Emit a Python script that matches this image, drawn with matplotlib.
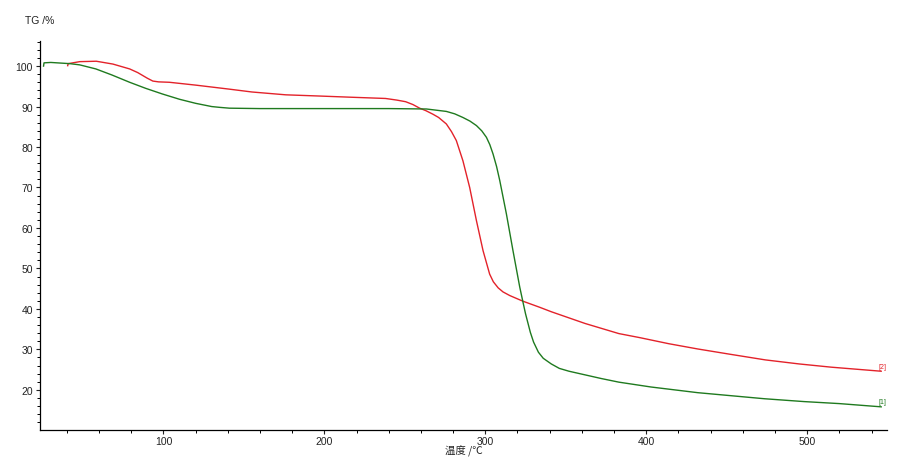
import matplotlib
matplotlib.use('Agg')
import matplotlib.pyplot as plt
from matplotlib.ticker import MultipleLocator

# sample [1] (green)
temp_1 = [25.5, 25.8, 30, 42, 48, 58, 68, 79, 89, 99.4, 110, 120, 125, 130, 135, 141, 160, 200, 240,
          263.4, 275.8, 281, 286.1, 290.5, 294.5, 297.8, 300.7, 302.8, 304.8, 307, 309, 313.1, 317.2,
          321.4, 323.4, 325, 328, 330, 333, 336, 341, 346, 352, 362, 372, 383, 403, 432, 473.5, 498,
          520, 546]
tg_1 = [100.0, 100.8, 100.9, 100.6, 100.3, 99.3, 97.8, 96.0, 94.5, 93.1, 91.8, 90.8, 90.4, 90.0,
        89.8, 89.6, 89.5, 89.5, 89.5, 89.4, 88.8, 88.2, 87.3, 86.4, 85.3, 84.0, 82.4, 80.6, 78.3,
        75.2, 71.7, 63.5, 54.4, 45.4, 41.7, 38.8, 34.2, 31.8, 29.3, 27.8, 26.4, 25.3, 24.6, 23.7,
        22.8, 21.9, 20.7, 19.3, 17.8, 17.1, 16.6, 15.8]

# sample [2] (red)
temp_2 = [40.5, 40.8, 48, 58.3, 68.6, 79, 84, 90, 93.4, 97, 103.7, 120, 141, 155, 176, 197, 217,
          238, 245, 250.5, 255, 259.2, 263, 267.5, 271, 275.8, 279, 282, 286.1, 290.3, 294.5,
          298.6, 302.7, 305, 308, 311, 315.2, 323.4, 333.8, 341, 362, 383, 396, 414, 432, 452,
          474, 495, 515, 546]
tg_2 = [100.1, 100.6, 101.1, 101.2, 100.5, 99.3, 98.4, 97.0, 96.3, 96.1, 96.0, 95.3, 94.3, 93.6,
        92.9, 92.6, 92.3, 92.0, 91.6, 91.2, 90.5, 89.6, 89.0, 88.1, 87.3, 85.7, 83.8, 81.6, 76.6,
        70.0, 61.8, 54.4, 48.6, 46.7, 45.2, 44.2, 43.3, 41.9, 40.4, 39.3, 36.4, 33.9, 32.9, 31.4,
        30.1, 28.8, 27.4, 26.4, 25.6, 24.6]

x_ticks = [100, 200, 300, 400, 500]
y_ticks = [20, 30, 40, 50, 60, 70, 80, 90, 100]

plt.rcParams['font.family'] = ['Liberation Sans', 'Noto Sans CJK SC', 'DejaVu Sans']

fig = plt.figure(figsize=(9, 4.64), dpi=100)
ax = fig.add_axes([40 / 900, 1 - 430.5 / 464, 847.3 / 900, 388.5 / 464])

ax.plot(temp_2, tg_2, color='#e3222a', linewidth=1)
ax.plot(temp_1, tg_1, color='#1f7a1f', linewidth=1)

ax.text(temp_2[-1] - 1.5, tg_2[-1] + 0.4, '[2]', color='#e3222a', fontsize=5, ha='left', va='bottom')
ax.text(temp_1[-1] - 1.5, tg_1[-1] + 0.4, '[1]', color='#1f7a1f', fontsize=5, ha='left', va='bottom')

ax.set_xlim(23.3, 549.8)
ax.set_ylim(10.2, 106.2)
ax.set_xticks(x_ticks)
ax.set_yticks(y_ticks)
ax.xaxis.set_minor_locator(MultipleLocator(20))
ax.yaxis.set_minor_locator(MultipleLocator(2))
ax.tick_params(which='major', length=3, width=0.8, pad=2, labelsize=7.5, colors='#222222')
ax.tick_params(which='minor', length=2, width=0.7)

for side in ['top', 'right']:
    ax.spines[side].set_visible(False)
ax.spines['left'].set_linewidth(0.9)
ax.spines['bottom'].set_linewidth(0.9)

fig.text(25 / 900, 1 - 21 / 464, 'TG /%', fontsize=7.5, ha='left', va='center', color='#222222')
fig.text(464 / 900, 1 - 451 / 464, '温度 /℃', fontsize=7.5, ha='center', va='center',
         color='#222222', family=['Noto Sans CJK SC', 'DejaVu Sans'])

fig.savefig('out.png', dpi=100)
